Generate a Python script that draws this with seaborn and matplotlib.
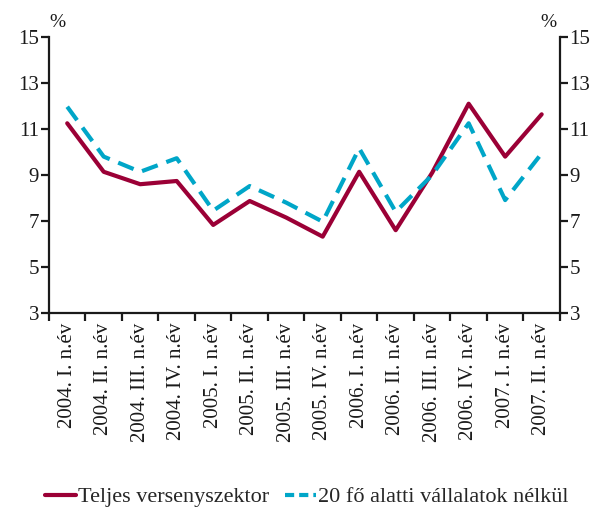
import pandas as pd
import numpy as np
import seaborn as sns
import matplotlib.pyplot as plt
from matplotlib.lines import Line2D

quarters = ['2004. I. n.év', '2004. II. n.év', '2004. III. n.év', '2004. IV. n.év',
            '2005. I. n.év', '2005. II. n.év', '2005. III. n.év', '2005. IV. n.év',
            '2006. I. n.év', '2006. II. n.év', '2006. III. n.év', '2006. IV. n.év',
            '2007. I. n.év', '2007. II. n.év']
teljes = [11.25, 9.14, 8.6, 8.74, 6.83, 7.87, 7.15, 6.32, 9.14, 6.6, 9.1, 12.1, 9.8, 11.64]
kis_nelkul = [11.97, 9.8, 9.14, 9.73, 7.45, 8.52, 7.8, 6.97, 10.16, 7.4, 9.0, 11.25, 7.91, 9.94]
series_names = ['Teljes versenyszektor', '20 fő alatti vállalatok nélkül']

red = '#9B0036'
blue = '#00A6C8'

sns.set_style('white')
plt.rcParams['font.family'] = ['Liberation Serif', 'DejaVu Serif']

df = pd.DataFrame({'x': np.arange(len(quarters)), 'teljes': teljes, 'kis': kis_nelkul})

fig = plt.figure(figsize=(5.9, 5.11), dpi=100)
ax = fig.add_axes([0.083, 0.3875, 0.866, 0.54])

sns.lineplot(data=df, x='x', y='teljes', ax=ax, color=red, linewidth=3)
sns.lineplot(data=df, x='x', y='kis', ax=ax, color=blue, linewidth=3, dashes=False)
ax.lines[1].set_dashes([4, 2.2])

ax.set_xlim(-0.5, len(quarters) - 0.5)
ax.set_ylim(3, 15)
ax.set_yticks(range(3, 16, 2))
ax.set_xticks(range(len(quarters)))
ax.set_xticklabels(quarters, rotation=90)
ax.set_xticks(np.arange(-0.5, len(quarters), 1), minor=True)
ax.set_xlabel('')
ax.set_ylabel('')

for s in ['left', 'right', 'bottom']:
    ax.spines[s].set_visible(True)
    ax.spines[s].set_color('#1a1a1a')
    ax.spines[s].set_linewidth(1.6)
ax.spines['top'].set_visible(False)

ax.tick_params(axis='x', which='major', length=0, labelsize=15, pad=7, colors='#1a1a1a')
ax.tick_params(axis='x', which='minor', length=6, width=1.6, direction='out', bottom=True, color='#1a1a1a')
ax.tick_params(axis='y', which='major', length=6, width=1.6, direction='out', left=True,
               right=True, labelleft=True, labelright=True, labelsize=15, pad=1, colors='#1a1a1a')

fig.text(0.098, 0.955, '%', fontsize=14, ha='center', va='center', color='#1a1a1a')
fig.text(0.929, 0.955, '%', fontsize=14, ha='center', va='center', color='#1a1a1a')

handles = [Line2D([0], [0], color=red, linewidth=3),
           Line2D([0], [0], color=blue, linewidth=3, dashes=[2.2, 1.2])]
fig.legend(handles, series_names, loc='center', bbox_to_anchor=(0.52, 0.027), ncol=2,
           frameon=False, fontsize=16, handlelength=1.4, handletextpad=0.1, columnspacing=0.7)

fig.savefig('out.png', dpi=100)
